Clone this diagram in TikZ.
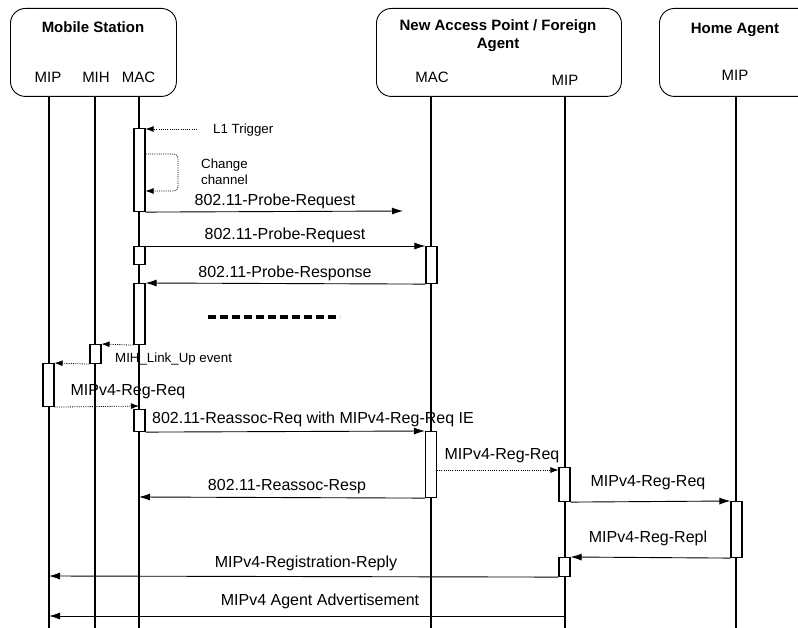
\documentclass[tikz,border=0pt]{standalone}
\usepackage{fontspec}
\setmainfont{Liberation Sans}
\usetikzlibrary{arrows.meta}
\begin{document}
\begin{tikzpicture}[x=1pt,y=-1pt,
  header/.style={draw, rounded corners=15pt, line width=0.9pt, inner sep=0pt, anchor=north west},
  life/.style={line width=1.1pt},
  actbox/.style={draw, fill=white, line width=1.1pt, minimum width=11pt, inner sep=0pt, anchor=north},
  msg/.style={line width=0.9pt, -{Latex[length=11pt,width=7pt]}},
  dmsg/.style={line width=0.8pt, dash pattern=on 1pt off 1.2pt, -{Latex[length=8pt,width=6pt]}},
  ttl/.style={font=\fontsize{15}{18}\selectfont\bfseries, inner sep=0pt},
  role/.style={font=\fontsize{15}{18}\selectfont, inner sep=0pt},
  lbl/.style={font=\fontsize{16}{19}\selectfont, inner sep=0pt},
  small/.style={font=\fontsize{13.3}{16}\selectfont, inner sep=0pt, align=left},
  dashline/.style={line width=3.5pt, dash pattern=on 8pt off 4pt}
]
\useasboundingbox (0,0) rectangle (798,628);
\fill[white] (0,0) rectangle (798,628);

% header boxes
\node[header, minimum width=166pt, minimum height=88pt] (ms) at (10,8) {};
\node[header, minimum width=245pt, minimum height=88pt] (ap) at (376,8) {};
\begin{scope}
\clip (0,0) rectangle (798,628);
\node[header, minimum width=160pt, minimum height=88pt] (ha) at (659,8) {};
\end{scope}

\node[ttl] (mst) at (93,27) {Mobile Station};
\node[role] (msmipl) at (48,77) {MIP};
\node[role] (msmihl) at (96,77) {MIH};
\node[role] (msmacl) at (138.5,77) {MAC};

\node[ttl] (apt1) at (498,27) {New Access Point / Foreign};
\node[ttl] (apt2) at (498,45) {Agent};
\node[role] (apmacl) at (432,77) {MAC};
\node[role] (apmipl) at (565,80) {MIP};

\node[ttl] (hat) at (735,30) {Home Agent};
\node[role] (hamipl) at (735,75) {MIP};

% lifelines
\coordinate (msmipT) at (49,96);   \coordinate (msmipB) at (49,628);
\coordinate (msmihT) at (95,96);   \coordinate (msmihB) at (95,628);
\coordinate (msmacT) at (139,96);  \coordinate (msmacB) at (139,628);
\coordinate (apmacT) at (431,96);  \coordinate (apmacB) at (431,628);
\coordinate (apmipT) at (565,96);  \coordinate (apmipB) at (565,628);
\coordinate (hamipT) at (736,96);  \coordinate (hamipB) at (736,628);
\foreach \a/\b in {msmipT/msmipB, msmihT/msmihB, msmacT/msmacB, apmacT/apmacB, apmipT/apmipB, hamipT/hamipB}
  \draw[life] (\a) -- (\b);

% activation boxes
\node[actbox, minimum height=83pt] (a1) at (139.5,128) {};
\node[actbox, minimum height=18pt] (a2) at (139.5,246) {};
\node[actbox, minimum height=37pt] (b1) at (431.5,246) {};
\node[actbox, minimum height=61pt] (a3) at (139.5,283) {};
\node[actbox, minimum height=19pt] (m1) at (95.5,344) {};
\node[actbox, minimum height=43pt] (p1) at (48.5,363) {};
\node[actbox, minimum height=22pt] (a4) at (139.5,409) {};
\node[actbox, minimum height=66pt] (b2) at (431,431) {};
\node[actbox, minimum height=34pt] (c1) at (564.5,467) {};
\node[actbox, minimum height=56pt] (h1) at (736.5,501) {};
\node[actbox, minimum height=19pt] (c2) at (564.5,557) {};

% L1 trigger
\coordinate (l1s) at (197,129);
\draw[dmsg] (l1s) -- (a1.east |- l1s);
\node[small, anchor=west] (l1t) at (213,130) {L1 Trigger};

% change channel loop
\coordinate (cc1) at (a1.east |- 0,154);
\coordinate (cc2) at (a1.east |- 0,191);
\draw[dmsg, rounded corners=4pt] (cc1) -- (178,154) -- (178,191) -- (cc2);
\node[small, anchor=west] (cct) at (201,172) {Change\\channel};

% probe request 1
\coordinate (pr1e) at (403,211);
\draw[msg] (a1.south east) -- (pr1e);
\node[lbl] (pr1t) at (275,201) {802.11-Probe-Request};

% probe request 2
\draw[msg] (a2.north east) -- (b1.north west);
\node[lbl] (pr2t) at (285,235) {802.11-Probe-Request};

% probe response
\draw[msg] (b1.south west) -- (a3.north east);
\node[lbl] (prst) at (285,273) {802.11-Probe-Response};

% dashes
\coordinate (ds) at (208,317); \coordinate (de) at (340,317);
\draw[dashline] (ds) -- (de);

% MIH link up
\draw[dmsg] (a3.south west) -- (m1.north east);
\node[small, anchor=west] (mlu) at (115,359) {MIH\_Link\_Up event};
\draw[dmsg] (m1.south west) -- (p1.north east);

% MIPv4-Reg-Req (internal)
\coordinate (rq1e) at (139,406);
\draw[dmsg] (p1.south east) -- (rq1e);
\node[lbl] (rq1t) at (128,392) {MIPv4-Reg-Req};

% Reassoc req
\draw[msg] (a4.south east) -- (b2.north west);
\node[lbl, anchor=west] (rat) at (152,419) {802.11-Reassoc-Req with MIPv4-Reg-Req IE};

% MIPv4-Reg-Req to FA MIP
\coordinate (rq2s) at (b2.east |- 0,470);
\draw[dmsg] (rq2s) -- (c1.west |- rq2s);
\node[lbl] (rq2t) at (502,456) {MIPv4-Reg-Req};

% Reassoc resp
\coordinate (rre) at (139,497);
\draw[msg] (b2.south west) -- (rre);
\node[lbl] (rrt) at (287,487) {802.11-Reassoc-Resp};

% MIPv4-Reg-Req to HA
\draw[msg] (c1.south east) -- (h1.north west);
\node[lbl] (rq3t) at (648,483) {MIPv4-Reg-Req};

% MIPv4-Reg-Repl
\draw[msg] (h1.south west) -- (c2.north east);
\node[lbl] (rplt) at (648,538) {MIPv4-Reg-Repl};

% Registration reply
\coordinate (rgre) at (49,576);
\draw[msg] (c2.south west) -- (rgre);
\node[lbl] (rgrt) at (306,563) {MIPv4-Registration-Reply};

% Agent advertisement
\coordinate (aas) at (565,616);
\coordinate (aae) at (49,616);
\draw[msg] (aas) -- (aae);
\node[lbl] (aat) at (320,601) {MIPv4 Agent Advertisement};
\end{tikzpicture}
\end{document}
